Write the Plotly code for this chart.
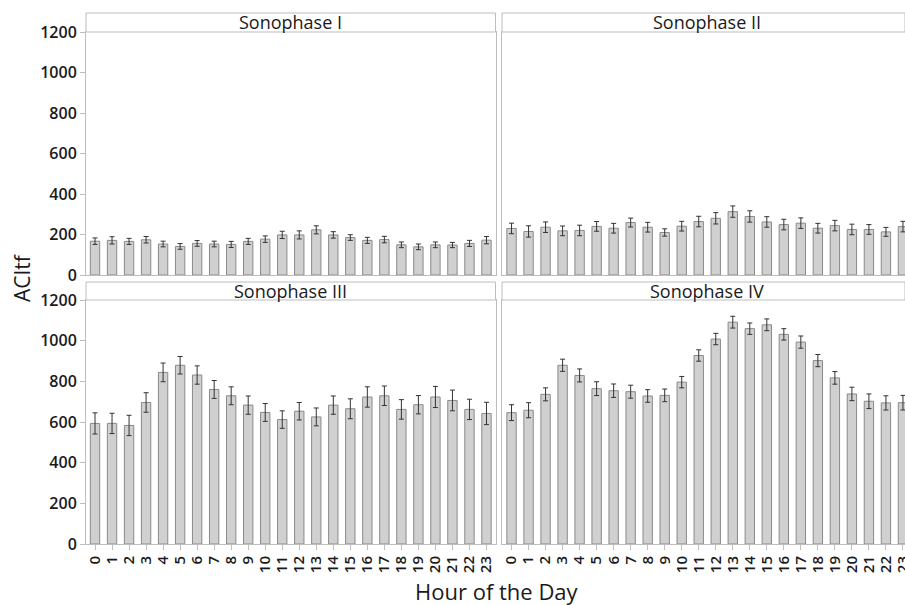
import plotly.graph_objects as go

hours = list(range(24))
hour_labels = [str(h) for h in hours]

panel_titles = ["Sonophase I", "Sonophase II", "Sonophase III", "Sonophase IV"]

s1_vals = [167, 171, 166, 174, 153, 141, 156, 153, 151, 166, 177, 198, 198, 223, 198, 185, 171, 175, 149, 139, 149, 148, 156, 172]
s1_err = [16, 18, 15, 16, 14, 14, 14, 14, 15, 15, 16, 18, 20, 20, 16, 14, 15, 16, 14, 14, 14, 13, 15, 18]

s2_vals = [230, 215, 236, 218, 220, 240, 231, 259, 236, 210, 241, 264, 280, 313, 289, 262, 249, 256, 231, 244, 225, 225, 213, 239]
s2_err = [26, 28, 26, 24, 26, 24, 24, 22, 24, 18, 24, 26, 28, 28, 28, 26, 26, 26, 24, 26, 26, 24, 22, 26]

s3_vals = [593, 593, 583, 696, 844, 879, 831, 760, 729, 683, 647, 612, 653, 625, 683, 665, 723, 729, 662, 685, 723, 706, 662, 642]
s3_err = [52, 50, 50, 48, 46, 43, 45, 44, 44, 45, 44, 43, 43, 44, 45, 49, 50, 48, 48, 45, 52, 51, 50, 55]

s4_vals = [646, 658, 736, 879, 829, 764, 754, 749, 728, 731, 796, 927, 1008, 1091, 1059, 1078, 1031, 993, 902, 817, 738, 702, 694, 695]
s4_err = [39, 37, 32, 30, 32, 34, 33, 32, 31, 31, 28, 28, 28, 29, 28, 29, 28, 30, 30, 31, 33, 36, 35, 36]

y_ticks = [0, 200, 400, 600, 800, 1000, 1200]

W, H = 905, 605
FONT = "Open Sans"

def px_x(p):
    return p / W

def px_y(p):
    return (H - p) / H

left_dom = [px_x(86), px_x(495.5)]
right_dom = [px_x(502), 1.0]
top_dom = [px_y(275), px_y(32)]
bot_dom = [px_y(544), px_y(300)]
top_strip = [px_y(32), px_y(13)]
bot_strip = [px_y(300), px_y(282)]

series = [(s1_vals, s1_err), (s2_vals, s2_err), (s3_vals, s3_err), (s4_vals, s4_err)]
xdoms = [left_dom, right_dom, left_dom, right_dom]
ydoms = [top_dom, top_dom, bot_dom, bot_dom]
strips = [top_strip, top_strip, bot_strip, bot_strip]
xranges = [[-0.53, 23.53], [-0.56, 23.12], [-0.53, 23.53], [-0.56, 23.12]]

fig = go.Figure()
layout = {}
shapes = []
annotations = []
axis_color = "#bdbdbd"

for i, ((vals, errs), xd, yd, st, xr) in enumerate(zip(series, xdoms, ydoms, strips, xranges)):
    n = i + 1
    xa = "x" if n == 1 else f"x{n}"
    ya = "y" if n == 1 else f"y{n}"
    fig.add_trace(go.Bar(
        x=hours, y=vals, xaxis=xa, yaxis=ya,
        width=0.55,
        marker=dict(color="#d0d0d0", line=dict(color="#8a8a8a", width=1)),
        error_y=dict(type="data", array=errs, visible=True, color="#333333", thickness=1, width=2.5),
        showlegend=False,
        hoverinfo="skip",
    ))
    show_x = i >= 2
    show_y = i in (0, 2)
    layout["xaxis" if n == 1 else f"xaxis{n}"] = dict(
        domain=xd, anchor=ya, range=xr, automargin=False,
        tickmode="array", tickvals=hours, ticktext=hour_labels,
        showticklabels=show_x, tickangle=-90, ticklabeloverflow="allow",
        ticks="outside" if show_x else "", ticklen=5, tickcolor=axis_color,
        showline=True, linecolor=axis_color, linewidth=1, mirror=True,
        showgrid=False, zeroline=False,
        tickfont=dict(family=FONT, size=15, color="#1a1a1a", weight=600),
    )
    layout["yaxis" if n == 1 else f"yaxis{n}"] = dict(
        domain=yd, anchor=xa, range=[0, 1200], automargin=False,
        tickmode="array", tickvals=y_ticks,
        showticklabels=show_y,
        ticks="outside" if show_y else "", ticklen=5, tickcolor=axis_color,
        showline=True, linecolor=axis_color, linewidth=1, mirror=True,
        showgrid=False, zeroline=False,
        tickfont=dict(family=FONT, size=16, color="#1a1a1a", weight=600),
    )
    shapes.append(dict(type="rect", xref="paper", yref="paper",
                       x0=xd[0], x1=xd[1], y0=st[0], y1=st[1],
                       line=dict(color=axis_color, width=1), fillcolor="white"))
    annotations.append(dict(text=panel_titles[i], xref="paper", yref="paper",
                            x=(xd[0] + xd[1]) / 2 if i % 2 == 0 else (xd[0] + px_x(502 + 410)) / 2,
                            y=(st[0] + st[1]) / 2,
                            showarrow=False, xanchor="center", yanchor="middle",
                            font=dict(family=FONT, size=18, color="#1a1a1a")))

annotations.append(dict(text="ACItf", xref="paper", yref="paper", x=px_x(22), y=px_y(278),
                        textangle=-90, showarrow=False, xanchor="center", yanchor="middle",
                        font=dict(family=FONT, size=21, color="#1a1a1a")))
annotations.append(dict(text="Hour of the Day", xref="paper", yref="paper", x=px_x(497), y=px_y(591),
                        showarrow=False, xanchor="center", yanchor="middle",
                        font=dict(family=FONT, size=22, color="#1a1a1a")))

fig.update_layout(
    width=W, height=H,
    margin=dict(l=0, r=0, t=0, b=0, pad=0),
    paper_bgcolor="white", plot_bgcolor="white",
    shapes=shapes, annotations=annotations,
    bargap=0.4,
    **layout,
)

fig.write_html("out.html", config={"displayModeBar": False},
               post_script="document.body.style.margin='0';document.body.style.overflow='hidden';")
